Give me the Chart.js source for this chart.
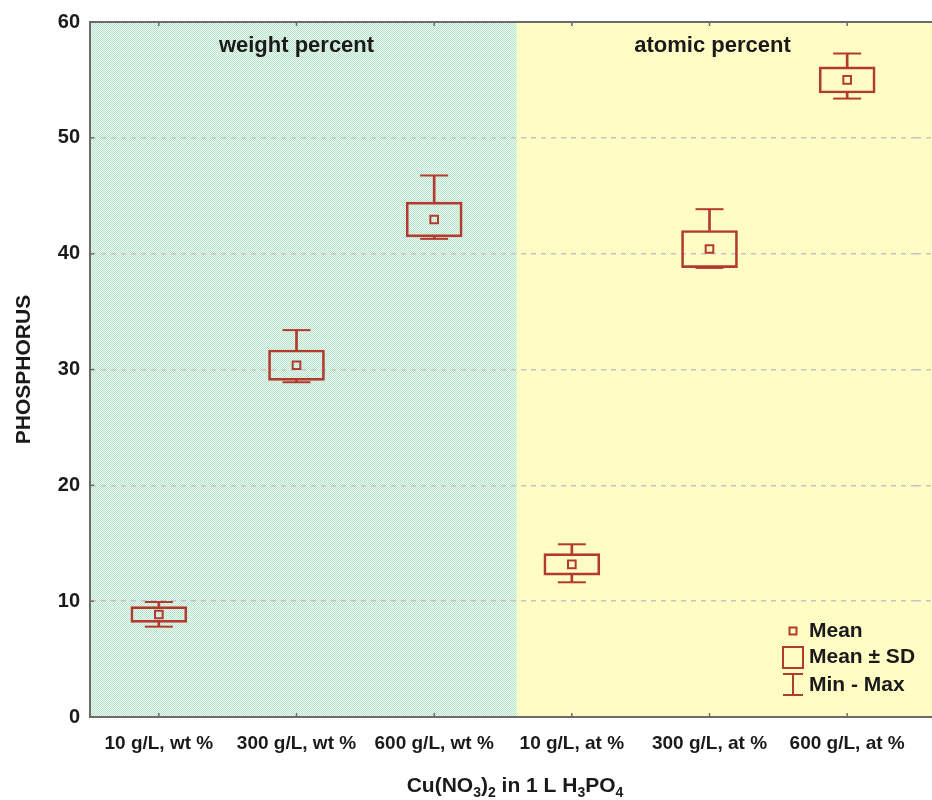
<!DOCTYPE html>
<html>
<head>
<meta charset="utf-8">
<script src="https://cdn.jsdelivr.net/npm/chart.js@4.4.0/dist/chart.umd.min.js"></script>
<style>
  html, body { margin: 0; padding: 0; background: #fff; }
  #wrap { width: 932px; height: 800px; }
</style>
</head>
<body>
<div id="wrap"><canvas id="phosChart"></canvas></div>
<script>
const categories = ['10 g/L, wt %', '300 g/L, wt %', '600 g/L, wt %', '10 g/L, at %', '300 g/L, at %', '600 g/L, at %'];
const means = [8.85, 30.37, 42.95, 13.18, 40.4, 55.0];
const sds = [0.68, 1.31, 1.5, 0.93, 1.6, 1.13];
const mins = [7.8, 28.9, 41.28, 11.63, 38.77, 53.39];
const maxs = [9.93, 33.4, 46.75, 14.91, 43.84, 57.28];
const yTicks = [0, 10, 20, 30, 40, 50, 60];
const groupLabels = ['weight percent', 'atomic percent'];
const legendLabels = ['Mean', 'Mean \u00b1 SD', 'Min - Max'];

const RED = '#b23a2e';
const INK = '#1a1a1a';
const AXIS = '#6b6b6b';
const GRID = '#c4c4c4';
const FONT = '"Liberation Sans", Arial, sans-serif';

const canvas_el = document.getElementById('phosChart');
const ctx = canvas_el.getContext('2d');

// box = mean +- sd, whiskers run from box edge to min / max
const boxes = means.map((m, i) => [m - sds[i], m + sds[i]]);
const upperWhisker = means.map((m, i) => [m + sds[i], maxs[i]]);
const lowerWhisker = means.map((m, i) => [mins[i], m - sds[i]]);

function makePattern(c1, c2) {
  const p = document.createElement('canvas');
  p.width = 2; p.height = 2;
  const pc = p.getContext('2d');
  pc.fillStyle = c2;
  pc.fillRect(0, 0, 2, 2);
  pc.fillStyle = c1;
  pc.fillRect(0, 0, 1, 1);
  pc.fillRect(1, 1, 1, 1);
  return ctx.createPattern(p, 'repeat');
}

const greenFill = makePattern('#b2e3c8', '#f1faf5');
const yellowFill = makePattern('#fffaa8', '#ffffe2');

const backgroundPlugin = {
  id: 'panels',
  beforeDraw(chart) {
    const { ctx, chartArea, scales } = chart;
    const c = ctx;
    c.save();
    c.fillStyle = '#ffffff';
    c.fillRect(0, 0, chart.width, chart.height);
    const split = scales.x.getPixelForValue(2.6);
    c.fillStyle = greenFill;
    c.fillRect(chartArea.left, chartArea.top, split - chartArea.left, chartArea.bottom - chartArea.top);
    c.fillStyle = yellowFill;
    c.fillRect(split, chartArea.top, chart.width - split, chartArea.bottom - chartArea.top);
    // grid lines run on past the right edge of the chart area
    c.strokeStyle = GRID;
    c.lineWidth = 1.5;
    c.setLineDash([5, 5]);
    c.beginPath();
    yTicks.slice(1, -1).forEach(v => {
      const y = Math.round(scales.y.getPixelForValue(v) - 0.75) + 0.75;
      c.moveTo(chartArea.right, y); c.lineTo(chart.width, y);
    });
    c.stroke();
    c.restore();
  }
};

const overlayPlugin = {
  id: 'overlay',
  afterDraw(chart) {
    const { ctx, chartArea, scales } = chart;
    const c = ctx;
    const { left, right, top, bottom } = chartArea;
    c.save();

    // top frame line, bottom axis extension and small tick marks
    c.strokeStyle = AXIS;
    c.lineWidth = 2;
    c.beginPath();
    c.moveTo(left, top);
    c.lineTo(chart.width, top);
    c.moveTo(right - 2, Math.round(bottom));
    c.lineTo(chart.width, Math.round(bottom));
    c.stroke();
    c.lineWidth = 1.5;
    c.beginPath();
    yTicks.forEach(v => {
      const y = scales.y.getPixelForValue(v);
      c.moveTo(left, y); c.lineTo(left + 4, y);
    });
    categories.forEach((_, i) => {
      const x = scales.x.getPixelForValue(i);
      c.moveTo(x, bottom); c.lineTo(x, bottom - 4);
      c.moveTo(x, top); c.lineTo(x, top + 4);
    });
    c.stroke();

    // group labels
    c.fillStyle = INK;
    c.font = 'bold 22px ' + FONT;
    c.textAlign = 'center';
    c.textBaseline = 'middle';
    c.fillText(groupLabels[0], scales.x.getPixelForValue(1), top + 24);
    c.fillText(groupLabels[1], scales.x.getPixelForValue(4) + 3, top + 24);

    // x axis title with subscripts
    const parts = [['Cu(NO', 0], ['3', 1], [')', 0], ['2', 1], [' in 1 L H', 0], ['3', 1], ['PO', 0], ['4', 1]];
    const big = 'bold 21px ' + FONT, small = 'bold 14px ' + FONT;
    let total = 0;
    parts.forEach(([t, s]) => { c.font = s ? small : big; total += c.measureText(t).width; });
    let x = (left + right) / 2 + 12 - total / 2;
    const ty = 792;
    c.textAlign = 'left';
    c.textBaseline = 'alphabetic';
    parts.forEach(([t, s]) => {
      c.font = s ? small : big;
      c.fillText(t, x, s ? ty + 5 : ty);
      x += c.measureText(t).width;
    });

    // legend
    const lx = right - 123;
    const tx = right - 107;
    const y1 = bottom - 86, y2 = bottom - 60, y3 = bottom - 32;
    c.strokeStyle = RED;
    c.lineWidth = 2;
    c.strokeRect(lx - 3.5, y1 - 3.5, 7, 7);
    c.strokeRect(lx - 10, y2 - 10, 20, 21);
    c.beginPath();
    c.moveTo(lx - 10, y3 - 11); c.lineTo(lx + 10, y3 - 11);
    c.moveTo(lx, y3 - 11); c.lineTo(lx, y3 + 10);
    c.moveTo(lx - 10, y3 + 10); c.lineTo(lx + 10, y3 + 10);
    c.stroke();
    c.fillStyle = INK;
    c.font = 'bold 21px ' + FONT;
    c.textBaseline = 'middle';
    c.fillText(legendLabels[0], tx, y1);
    c.fillText(legendLabels[1], tx, y2);
    c.fillText(legendLabels[2], tx, y3);
    c.restore();
  }
};

const phosChart = new Chart(ctx, {
  type: 'bar',
  data: {
    labels: categories,
    datasets: [
      {
        type: 'line',
        label: 'Mean',
        data: means,
        showLine: false,
        pointStyle: 'rect',
        pointRadius: 5.4,
        pointBorderWidth: 2,
        pointBorderColor: RED,
        pointBackgroundColor: 'rgba(0,0,0,0)'
      },
      {
        type: 'line',
        label: 'Max',
        data: maxs,
        showLine: false,
        pointStyle: 'line',
        pointRadius: 14,
        pointBorderWidth: 2,
        pointBorderColor: RED
      },
      {
        type: 'line',
        label: 'Min',
        data: mins,
        showLine: false,
        pointStyle: 'line',
        pointRadius: 14,
        pointBorderWidth: 2,
        pointBorderColor: RED
      },
      {
        label: 'Mean ± SD',
        data: boxes,
        grouped: false,
        barThickness: 56,
        backgroundColor: 'rgba(0,0,0,0)',
        borderColor: RED,
        borderWidth: 2,
        borderSkipped: false
      },
      {
        label: 'upper',
        data: upperWhisker,
        grouped: false,
        barThickness: 2,
        backgroundColor: RED,
        borderWidth: 0
      },
      {
        label: 'lower',
        data: lowerWhisker,
        grouped: false,
        barThickness: 2,
        backgroundColor: RED,
        borderWidth: 0
      }
    ]
  },
  options: {
    responsive: true,
    maintainAspectRatio: false,
    animation: false,
    events: [],
    layout: {
      padding: { top: 21, right: 12, bottom: 0, left: 0 }
    },
    plugins: {
      legend: { display: false },
      tooltip: { enabled: false }
    },
    scales: {
      x: {
        afterFit(scale) { scale.height = 83; },
        grid: { display: false, drawTicks: false },
        border: { display: true, color: AXIS, width: 2 },
        ticks: {
          color: INK,
          padding: 15,
          maxRotation: 0,
          autoSkip: false,
          font: { family: FONT, size: 19, weight: 'bold' }
        }
      },
      y: {
        min: 0,
        max: 60,
        afterFit(scale) { scale.width = 90; },
        afterBuildTicks(scale) { scale.ticks = yTicks.map(v => ({ value: v })); },
        grid: {
          drawTicks: false,
          lineWidth: 1.5,
          color: c => (c.tick && (c.tick.value === 0 || c.tick.value === 60)) ? 'rgba(0,0,0,0)' : GRID
        },
        border: { display: true, color: AXIS, width: 2, dash: [5, 5] },
        title: {
          display: true,
          text: 'PHOSPHORUS',
          color: INK,
          padding: { top: 12, bottom: 0 },
          font: { family: FONT, size: 21, weight: 'bold' }
        },
        ticks: {
          color: INK,
          padding: 10,
          font: { family: FONT, size: 20, weight: 'bold' }
        }
      }
    }
  },
  plugins: [backgroundPlugin, overlayPlugin]
});
</script>
</body>
</html>
